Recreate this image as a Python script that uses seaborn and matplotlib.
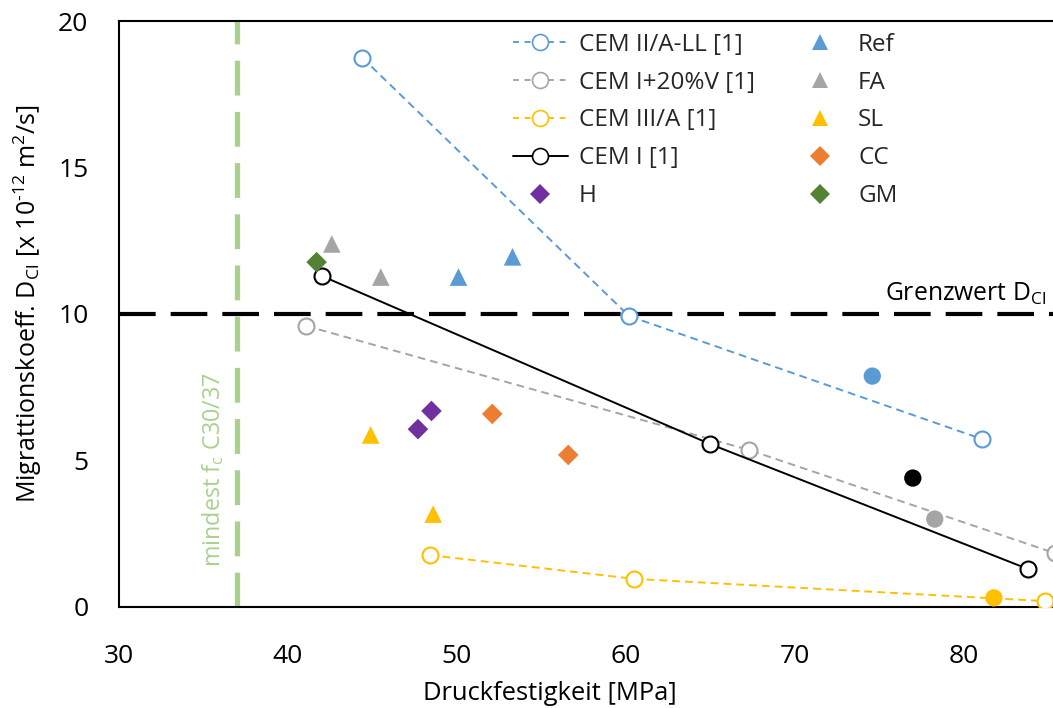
import matplotlib
matplotlib.use("Agg")
import matplotlib.pyplot as plt
from matplotlib.lines import Line2D
import seaborn as sns
import pandas as pd

# ---- data ----
cem2_x = [44.4, 60.2, 81.1]
cem2_y = [18.75, 9.93, 5.73]
cemv_x = [41.1, 67.3, 85.4]
cemv_y = [9.59, 5.36, 1.84]
cem3_x = [48.4, 60.5, 84.8]
cem3_y = [1.77, 0.96, 0.20]
cem1_x = [42.0, 65.0, 83.8]
cem1_y = [11.30, 5.56, 1.30]

dot_x = [74.6, 77.0, 78.3, 81.8]
dot_y = [7.88, 4.40, 3.00, 0.31]
dot_c = ["#5B9BD5", "#000000", "#A5A5A5", "#FFC000"]

ref_x = [50.1, 53.3]; ref_y = [11.26, 11.95]
fa_x = [42.6, 45.5];  fa_y = [12.39, 11.26]
sl_x = [44.9, 48.6];  sl_y = [5.87, 3.17]
h_x = [47.7, 48.5];   h_y = [6.07, 6.69]
cc_x = [52.1, 56.6];  cc_y = [6.59, 5.19]
gm_x = [41.7];        gm_y = [11.77]

grenzwert = 10.0
mindest_fc = 37.0

BLUE = "#5B9BD5"; GRAY = "#A5A5A5"; YEL = "#FFC000"; ORA = "#ED7D31"
PUR = "#7030A0"; GRN = "#548235"; LGRN = "#A9D18E"

sns.set_theme(style="white")
plt.rcParams["font.family"] = ["Open Sans", "DejaVu Sans"]
plt.rcParams["mathtext.fontset"] = "custom"
plt.rcParams["mathtext.rm"] = "Open Sans"
plt.rcParams["mathtext.it"] = "Open Sans"

fig = plt.figure(figsize=(10.53, 7.08), dpi=100)
ax = fig.add_axes([0.113, 0.1427, 0.887, 0.8276])

# reference lines
ax.axvline(mindest_fc, color=LGRN, lw=3.8, dashes=(6.6, 3.1), zorder=1)
ax.axhline(grenzwert, color="black", lw=3.0, dashes=(8.8, 3.6), zorder=1)

DASH = (4.0, 2.6)
line_specs = [
    (cem2_x, cem2_y, BLUE, DASH, "CEM II/A-LL [1]"),
    (cemv_x, cemv_y, GRAY, DASH, "CEM I+20%V [1]"),
    (cem3_x, cem3_y, YEL, DASH, "CEM III/A [1]"),
    (cem1_x, cem1_y, "black", None, "CEM I [1]"),
]
handles = []
for xs, ys, c, d, lab in line_specs:
    df = pd.DataFrame({"x": xs, "y": ys})
    kw = dict(color=c, lw=1.4, marker="o", markersize=11.5, markerfacecolor="white",
              markeredgecolor=c, markeredgewidth=1.5, sort=False, zorder=3)
    if d is not None:
        kw["dashes"] = False
        kw["linestyle"] = (0, d)
    sns.lineplot(data=df, x="x", y="y", ax=ax, legend=False, **kw)
    handles.append(Line2D([], [], color=c, lw=1.4, linestyle=(0, (3, 3)) if d else "-",
                          marker="o", markersize=11.5, markerfacecolor="white",
                          markeredgecolor=c, markeredgewidth=1.2, label=lab))

# filled circles
for x, y, c in zip(dot_x, dot_y, dot_c):
    sns.scatterplot(x=[x], y=[y], ax=ax, color=c, s=155, marker="o", edgecolor="none",
                    zorder=4, legend=False)

scat_specs = [
    (h_x, h_y, PUR, "D", "H", 110),
    (ref_x, ref_y, BLUE, "^", "Ref", 160),
    (fa_x, fa_y, GRAY, "^", "FA", 160),
    (sl_x, sl_y, YEL, "^", "SL", 160),
    (cc_x, cc_y, ORA, "D", "CC", 110),
    (gm_x, gm_y, GRN, "D", "GM", 110),
]
for xs, ys, c, m, lab, s in scat_specs:
    sns.scatterplot(x=xs, y=ys, ax=ax, color=c, marker=m, s=s, edgecolor="none",
                    zorder=4, legend=False)
    handles.append(Line2D([], [], linestyle="none", marker=m, color=c,
                          markersize=(10 if m == "D" else 12), markeredgewidth=0, label=lab))

ax.set_xlim(30, 85.3)
ax.set_ylim(0, 20)
ax.set_xticks([30, 40, 50, 60, 70, 80])
ax.set_yticks([0, 5, 10, 15, 20])
for s in ["left", "bottom", "top"]:
    ax.spines[s].set_visible(True)
    ax.spines[s].set_color("black")
    ax.spines[s].set_linewidth(1.5)
ax.spines["right"].set_visible(False)
ax.tick_params(axis="both", which="major", direction="out", length=8, width=1,
               color="#595959", labelsize=19, labelcolor="black")
ax.tick_params(axis="y", pad=14)
ax.tick_params(axis="x", pad=19)

ax.set_xlabel("Druckfestigkeit [MPa]", fontsize=18.4, labelpad=8, color="black")
ax.set_ylabel(r"Migrattionskoeff. D$_{\mathrm{Cl}}$ [x 10$^{\text{-12}}$ m$^{2}$/s]",
              fontsize=18, labelpad=10, color="black")
ax.xaxis.label.set_x(0.4615)
ax.yaxis.label.set_y(0.517)

ax.text(84.9, 10.25, r"Grenzwert D$_{\mathrm{Cl}}$", ha="right", va="bottom",
        fontsize=17.8, color="black")
ax.text(35.6, 4.68, r"mindest f$_{\mathrm{c}}$ C30/37", rotation=90, ha="center",
        va="center", fontsize=16.8, color=LGRN)

leg = ax.legend(handles=handles, ncol=2, loc="upper left", bbox_to_anchor=(0.4218, 0.98),
                frameon=False, fontsize=17.5, handlelength=2.26, labelspacing=0.57,
                columnspacing=1.54, handletextpad=0.45, borderaxespad=0.0, borderpad=0.0)

fig.savefig("out.png", dpi=100)
